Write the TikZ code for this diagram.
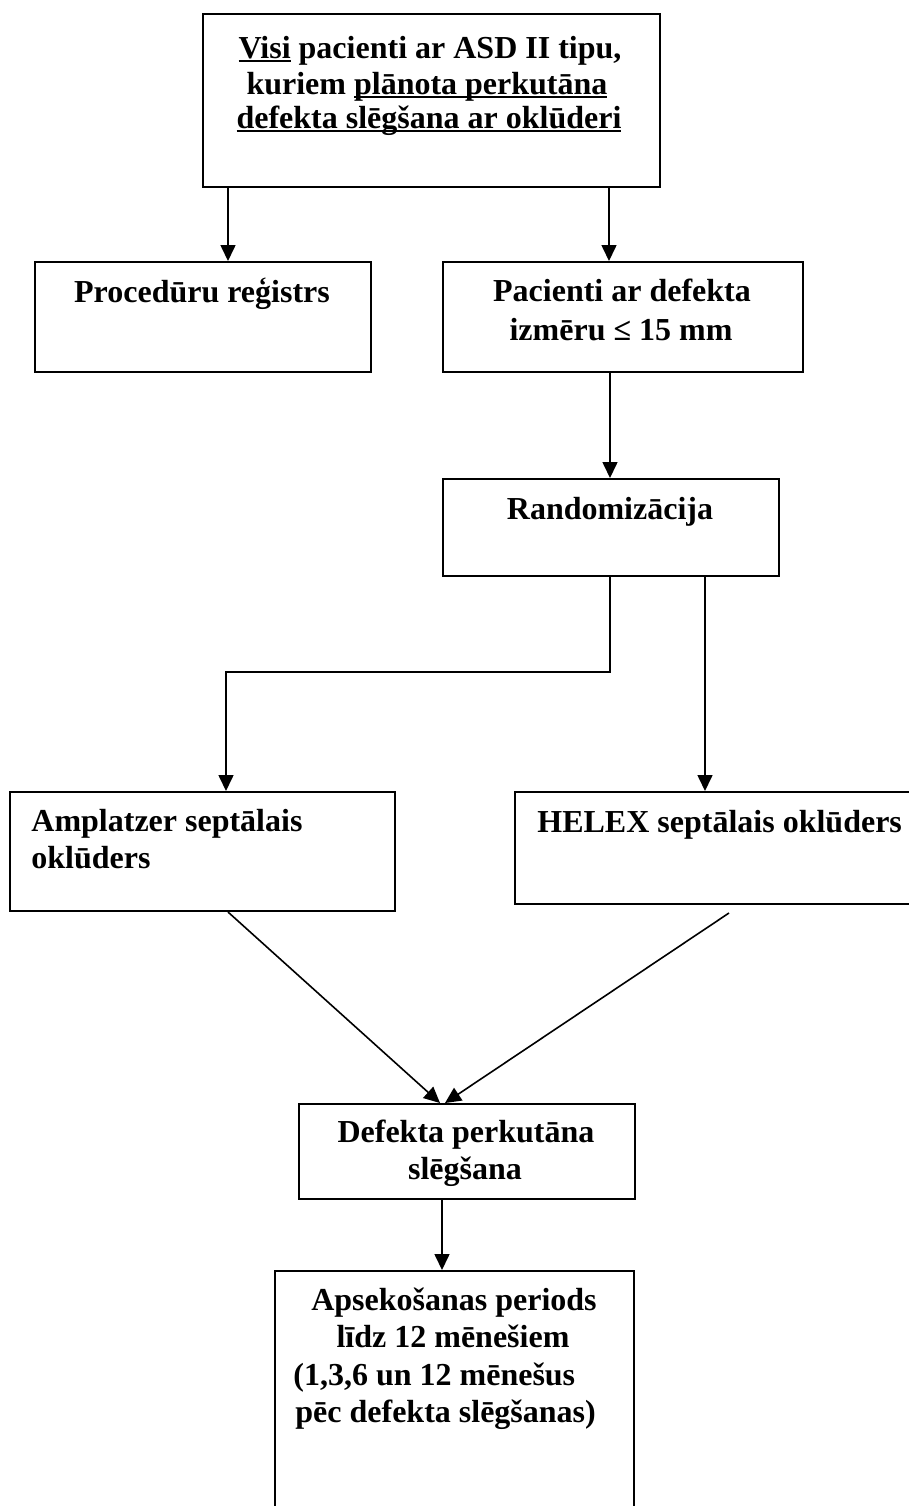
\documentclass[tikz,border=0pt]{standalone}
\usepackage{fontspec}
\setmainfont{Liberation Serif}
\usetikzlibrary{arrows.meta,calc}
\newcommand\myuline[1]{\setbox0\hbox{#1}\rlap{\rule[-2.2pt]{\wd0}{1.1pt}}\box0\relax}
\begin{document}
\begin{tikzpicture}[x=0.5pt,y=-0.5pt,
  box/.style={draw,line width=1pt,rectangle,inner sep=0pt,anchor=north west},
  txt/.style={inner sep=0pt,font=\fontsize{16}{17.5}\selectfont\bfseries},
  ctxt/.style={txt,anchor=base},
  ltxt/.style={txt,anchor=base west},
  arr/.style={line width=0.8pt,-{Triangle[length=8pt,width=7.5pt]}},
  ln/.style={line width=0.8pt}]
\useasboundingbox (0,0) rectangle (909,1506);
\clip (0,0) rectangle (909,1506);
% boxes
\node[box,minimum width=228.5pt,minimum height=86.5pt] (top) at (202,13) {};
\node[box,minimum width=168pt,minimum height=55pt] (reg) at (34,261) {};
\node[box,minimum width=180pt,minimum height=55pt] (pac) at (442,261) {};
\node[box,minimum width=168pt,minimum height=48.5pt] (rand) at (442,478) {};
\node[box,minimum width=192.5pt,minimum height=59.5pt] (ampl) at (9,791) {};
\node[box,minimum width=208pt,minimum height=56pt] (helex) at (514,791) {};
\node[box,minimum width=168pt,minimum height=47.5pt] (def) at (298,1103) {};
\node[box,minimum width=179.5pt,minimum height=130pt] (aps) at (274,1270) {};
% texts
\node[ctxt] (t1) at (430,58) {\myuline{Visi} pacienti ar ASD II tipu,};
\node[ctxt] (t2) at (427,94) {kuriem \myuline{plānota perkutāna}};
\node[ctxt] (t3) at (429,128) {\myuline{defekta slēgšana ar oklūderi}};
\node[ctxt] (treg) at (202,302) {Procedūru reģistrs};
\node[ctxt] (tpac1) at (622,301) {Pacienti ar defekta};
\node[ctxt] (tpac2) at (621,340) {izmēru ≤ 15 mm};
\node[ctxt] (trand) at (610,519) {Randomizācija};
\node[ltxt] (tampl1) at (31,831) {Amplatzer septālais};
\node[ltxt] (tampl2) at (31,868) {oklūders};
\node[ltxt] (thelex) at (537,832) {HELEX septālais oklūders};
\node[ctxt] (tdef1) at (466,1142) {Defekta perkutāna};
\node[ctxt] (tdef2) at (465,1179) {slēgšana};
\node[ctxt] (taps1) at (454,1310) {Apsekošanas periods};
\node[ctxt] (taps2) at (453,1347) {līdz 12 mēnešiem};
\node[ltxt] (taps3) at (293,1385) {(1,3,6 un 12 mēnešus};
\node[ltxt] (taps4) at (295,1422) {pēc defekta slēgšanas)};
% connectors
\draw[arr] ($(top.south west)+(26,0)$) coordinate (a1) -- (a1 |- reg.north);
\draw[arr] ($(top.south west)+(407,0)$) coordinate (a2) -- (a2 |- pac.north);
\draw[arr] ($(pac.south west)+(168,0)$) coordinate (a3) -- (a3 |- rand.north);
\draw[arr] ($(rand.south west)+(168,0)$) -- ++(0,95) -| ($(ampl.north west)+(217,0)$);
\draw[arr] ($(rand.south west)+(263,0)$) coordinate (a5) -- (a5 |- helex.north);
\draw[arr] ($(ampl.south west)+(219,0)$) -- ($(def.north west)+(142,0)$);
\draw[arr] ($(helex.south west)+(215,8)$) -- ($(def.north west)+(147,0)$);
\draw[arr] ($(def.south west)+(144,0)$) coordinate (a8) -- (a8 |- aps.north);
\end{tikzpicture}
\end{document}
